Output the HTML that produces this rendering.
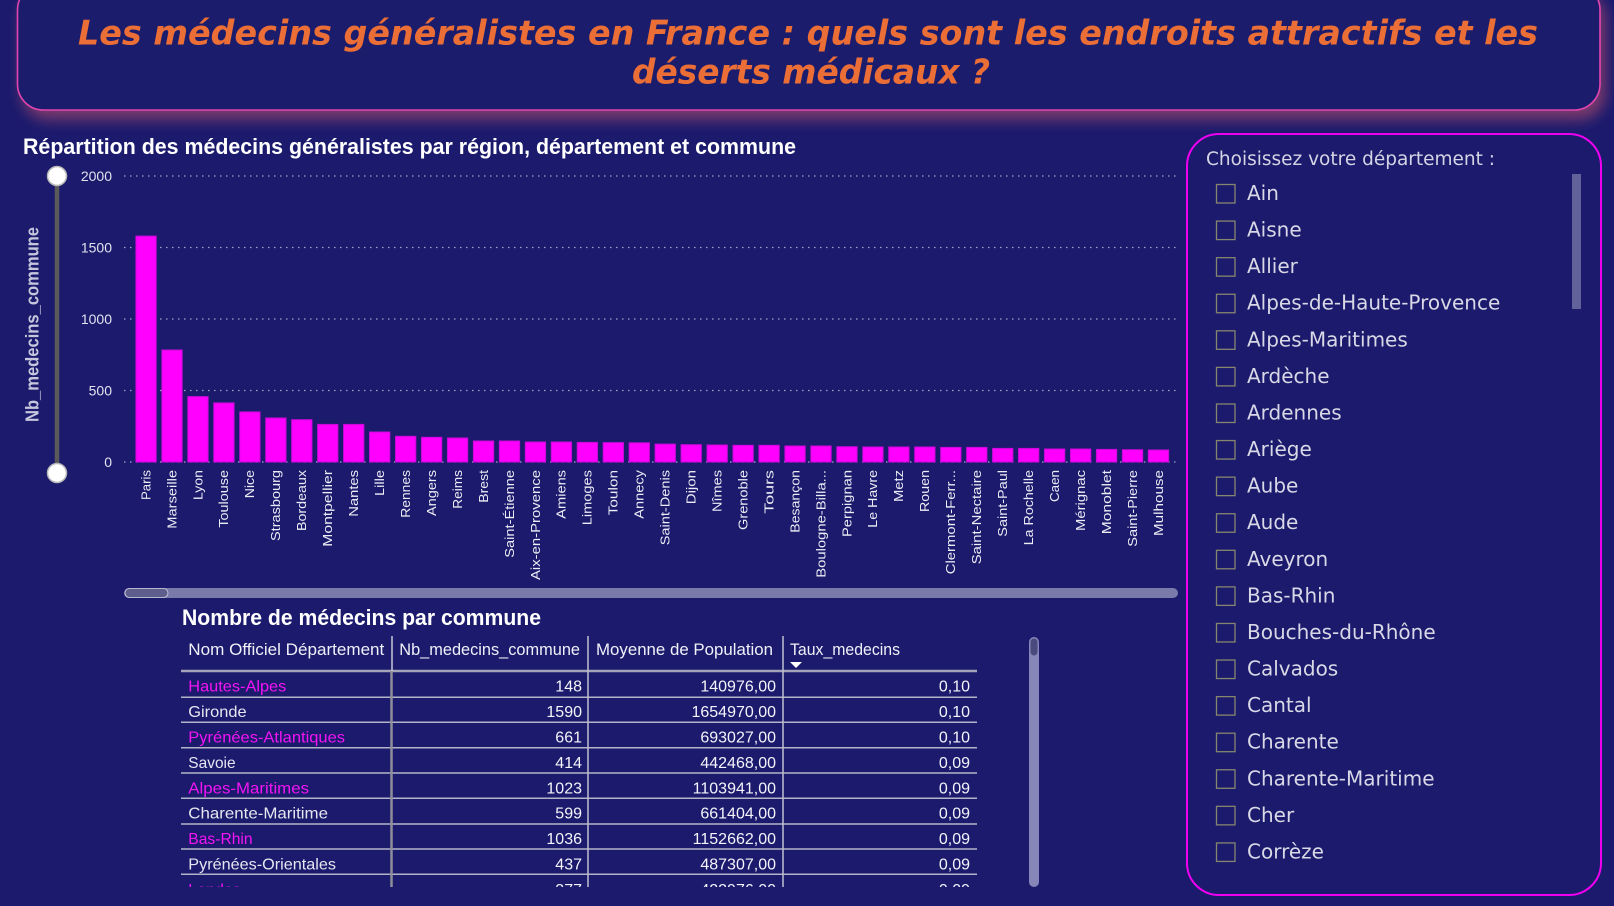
<!DOCTYPE html>
<html><head><meta charset="utf-8"><style>
html,body{margin:0;padding:0;background:#1b1a6d;}
svg{display:block;}
</style></head><body>
<svg width="1614" height="906" viewBox="0 0 1614 906" xmlns="http://www.w3.org/2000/svg">
<defs>
<filter id="sh" x="-5%" y="-30%" width="115%" height="180%">
<feDropShadow dx="5" dy="9" stdDeviation="7" flood-color="#8c3f6c" flood-opacity="0.85"/>
</filter>
<clipPath id="tclip"><rect x="170" y="630" width="820" height="257"/></clipPath>
</defs>
<rect width="1614" height="906" fill="#1b1a6d"/>

<!-- Header -->
<rect x="17.5" y="-16" width="1582.5" height="126" rx="26" fill="#1b1a6d" stroke="#e344ae" stroke-width="1.6" filter="url(#sh)"/>
<g font-family="'DejaVu Sans','Liberation Sans',sans-serif" font-weight="bold" font-style="italic" font-size="34" fill="#ea6e35">
<text x="78" y="44.5" textLength="1460" lengthAdjust="spacingAndGlyphs">Les médecins généralistes en France : quels sont les endroits attractifs et les</text>
<text x="632" y="83.5" textLength="358" lengthAdjust="spacingAndGlyphs">déserts médicaux ?</text>
</g>

<!-- Chart title -->
<text x="23" y="154" font-family="'Liberation Sans',sans-serif" font-weight="bold" font-size="22" fill="#ffffff" textLength="773" lengthAdjust="spacingAndGlyphs">Répartition des médecins généralistes par région, département et commune</text>

<!-- Y axis title -->
<text transform="translate(38.5,422) rotate(-90)" font-family="'Liberation Sans',sans-serif" font-weight="bold" font-size="18" fill="#c6c6dc" textLength="195" lengthAdjust="spacingAndGlyphs">Nb_medecins_commune</text>

<!-- Slider -->
<line x1="57" y1="176" x2="57" y2="473" stroke="#5a5a5a" stroke-width="4.5"/>
<circle cx="57" cy="176" r="9.5" fill="#ffffff" stroke="#b8b8b8" stroke-width="1.5"/>
<circle cx="57" cy="473" r="9.5" fill="#ffffff" stroke="#b8b8b8" stroke-width="1.5"/>

<!-- Gridlines -->
<g stroke="#a2a2c8" stroke-width="1.3" stroke-dasharray="1.5 4.5">
<line x1="124" y1="176" x2="1176" y2="176"/>
<line x1="124" y1="247.5" x2="1176" y2="247.5"/>
<line x1="124" y1="319" x2="1176" y2="319"/>
<line x1="124" y1="390.5" x2="1176" y2="390.5"/>
<line x1="124" y1="462" x2="1176" y2="462"/>
</g>
<g font-family="'Liberation Sans',sans-serif" font-size="14" fill="#e2e2ee" text-anchor="end">
<text x="112" y="181">2000</text>
<text x="112" y="252.5">1500</text>
<text x="112" y="324">1000</text>
<text x="112" y="395.5">500</text>
<text x="112" y="467">0</text>
</g>

<!-- Bars -->
<g fill="#ff00ff" stroke="#c80ad6" stroke-width="1">
<rect x="135.9" y="236.1" width="20.3" height="225.9"/>
<rect x="161.86" y="350" width="20.3" height="112"/>
<rect x="187.82" y="396.6" width="20.3" height="65.4"/>
<rect x="213.78" y="402.9" width="20.3" height="59.1"/>
<rect x="239.74" y="411.9" width="20.3" height="50.1"/>
<rect x="265.7" y="418" width="20.3" height="44"/>
<rect x="291.66" y="419.7" width="20.3" height="42.3"/>
<rect x="317.62" y="424.4" width="20.3" height="37.6"/>
<rect x="343.58" y="424.4" width="20.3" height="37.6"/>
<rect x="369.54" y="432" width="20.3" height="30"/>
<rect x="395.5" y="436.3" width="20.3" height="25.7"/>
<rect x="421.46" y="437.3" width="20.3" height="24.7"/>
<rect x="447.42" y="438" width="20.3" height="24"/>
<rect x="473.38" y="441" width="20.3" height="21"/>
<rect x="499.34" y="441" width="20.3" height="21"/>
<rect x="525.3" y="442" width="20.3" height="20"/>
<rect x="551.26" y="442" width="20.3" height="20"/>
<rect x="577.22" y="442.4" width="20.3" height="19.6"/>
<rect x="603.18" y="442.6" width="20.3" height="19.4"/>
<rect x="629.14" y="442.8" width="20.3" height="19.2"/>
<rect x="655.1" y="444.1" width="20.3" height="17.9"/>
<rect x="681.06" y="444.7" width="20.3" height="17.3"/>
<rect x="707.02" y="445" width="20.3" height="17"/>
<rect x="732.98" y="445.3" width="20.3" height="16.7"/>
<rect x="758.94" y="445.3" width="20.3" height="16.7"/>
<rect x="784.9" y="446" width="20.3" height="16"/>
<rect x="810.86" y="446" width="20.3" height="16"/>
<rect x="836.82" y="446.7" width="20.3" height="15.3"/>
<rect x="862.78" y="447" width="20.3" height="15"/>
<rect x="888.74" y="447" width="20.3" height="15"/>
<rect x="914.7" y="447" width="20.3" height="15"/>
<rect x="940.66" y="447.4" width="20.3" height="14.6"/>
<rect x="966.62" y="447.4" width="20.3" height="14.6"/>
<rect x="992.58" y="448.4" width="20.3" height="13.6"/>
<rect x="1018.54" y="448.4" width="20.3" height="13.6"/>
<rect x="1044.5" y="449" width="20.3" height="13"/>
<rect x="1070.46" y="449" width="20.3" height="13"/>
<rect x="1096.42" y="449.4" width="20.3" height="12.6"/>
<rect x="1122.38" y="449.7" width="20.3" height="12.3"/>
<rect x="1148.34" y="450" width="20.3" height="12"/>
</g>

<!-- X labels -->
<g font-family="'Liberation Sans',sans-serif" font-size="13" fill="#ececf4" lengthAdjust="spacingAndGlyphs">
<text transform="translate(150.35,500) rotate(-90)" textLength="30" lengthAdjust="spacingAndGlyphs">Paris</text>
<text transform="translate(176.31,528.7) rotate(-90)" textLength="58.7" lengthAdjust="spacingAndGlyphs">Marseille</text>
<text transform="translate(202.27,500) rotate(-90)" textLength="30" lengthAdjust="spacingAndGlyphs">Lyon</text>
<text transform="translate(228.23,527.7) rotate(-90)" textLength="57.7" lengthAdjust="spacingAndGlyphs">Toulouse</text>
<text transform="translate(254.19,498.3) rotate(-90)" textLength="28.3" lengthAdjust="spacingAndGlyphs">Nice</text>
<text transform="translate(280.15,541) rotate(-90)" textLength="71" lengthAdjust="spacingAndGlyphs">Strasbourg</text>
<text transform="translate(306.11,531) rotate(-90)" textLength="61" lengthAdjust="spacingAndGlyphs">Bordeaux</text>
<text transform="translate(332.07,546.7) rotate(-90)" textLength="76.7" lengthAdjust="spacingAndGlyphs">Montpellier</text>
<text transform="translate(358.03,516.7) rotate(-90)" textLength="46.7" lengthAdjust="spacingAndGlyphs">Nantes</text>
<text transform="translate(383.99,496) rotate(-90)" textLength="26" lengthAdjust="spacingAndGlyphs">Lille</text>
<text transform="translate(409.95,517.7) rotate(-90)" textLength="47.7" lengthAdjust="spacingAndGlyphs">Rennes</text>
<text transform="translate(435.91,516) rotate(-90)" textLength="46" lengthAdjust="spacingAndGlyphs">Angers</text>
<text transform="translate(461.87,508.7) rotate(-90)" textLength="38.7" lengthAdjust="spacingAndGlyphs">Reims</text>
<text transform="translate(487.83,502.7) rotate(-90)" textLength="32.7" lengthAdjust="spacingAndGlyphs">Brest</text>
<text transform="translate(513.79,557.7) rotate(-90)" textLength="87.7" lengthAdjust="spacingAndGlyphs">Saint-Étienne</text>
<text transform="translate(539.75,580) rotate(-90)" textLength="110" lengthAdjust="spacingAndGlyphs">Aix-en-Provence</text>
<text transform="translate(565.71,518.7) rotate(-90)" textLength="48.7" lengthAdjust="spacingAndGlyphs">Amiens</text>
<text transform="translate(591.67,525.3) rotate(-90)" textLength="55.3" lengthAdjust="spacingAndGlyphs">Limoges</text>
<text transform="translate(617.63,515.3) rotate(-90)" textLength="45.3" lengthAdjust="spacingAndGlyphs">Toulon</text>
<text transform="translate(643.59,518.7) rotate(-90)" textLength="48.7" lengthAdjust="spacingAndGlyphs">Annecy</text>
<text transform="translate(669.55,545.3) rotate(-90)" textLength="75.3" lengthAdjust="spacingAndGlyphs">Saint-Denis</text>
<text transform="translate(695.51,504.3) rotate(-90)" textLength="34.3" lengthAdjust="spacingAndGlyphs">Dijon</text>
<text transform="translate(721.47,512) rotate(-90)" textLength="42" lengthAdjust="spacingAndGlyphs">Nîmes</text>
<text transform="translate(747.43,530) rotate(-90)" textLength="60" lengthAdjust="spacingAndGlyphs">Grenoble</text>
<text transform="translate(773.39,513.7) rotate(-90)" textLength="43.7" lengthAdjust="spacingAndGlyphs">Tours</text>
<text transform="translate(799.35,532.7) rotate(-90)" textLength="62.7" lengthAdjust="spacingAndGlyphs">Besançon</text>
<text transform="translate(825.31,577.7) rotate(-90)" textLength="107.7" lengthAdjust="spacingAndGlyphs">Boulogne-Billa...</text>
<text transform="translate(851.27,537) rotate(-90)" textLength="67" lengthAdjust="spacingAndGlyphs">Perpignan</text>
<text transform="translate(877.23,527.7) rotate(-90)" textLength="57.7" lengthAdjust="spacingAndGlyphs">Le Havre</text>
<text transform="translate(903.19,502) rotate(-90)" textLength="32" lengthAdjust="spacingAndGlyphs">Metz</text>
<text transform="translate(929.15,512) rotate(-90)" textLength="42" lengthAdjust="spacingAndGlyphs">Rouen</text>
<text transform="translate(955.11,574.3) rotate(-90)" textLength="104.3" lengthAdjust="spacingAndGlyphs">Clermont-Ferr...</text>
<text transform="translate(981.07,564.3) rotate(-90)" textLength="94.3" lengthAdjust="spacingAndGlyphs">Saint-Nectaire</text>
<text transform="translate(1007.03,536.7) rotate(-90)" textLength="66.7" lengthAdjust="spacingAndGlyphs">Saint-Paul</text>
<text transform="translate(1032.99,545.3) rotate(-90)" textLength="75.3" lengthAdjust="spacingAndGlyphs">La Rochelle</text>
<text transform="translate(1058.95,502) rotate(-90)" textLength="32" lengthAdjust="spacingAndGlyphs">Caen</text>
<text transform="translate(1084.91,531) rotate(-90)" textLength="61" lengthAdjust="spacingAndGlyphs">Mérignac</text>
<text transform="translate(1110.87,534.3) rotate(-90)" textLength="64.3" lengthAdjust="spacingAndGlyphs">Monoblet</text>
<text transform="translate(1136.83,546.7) rotate(-90)" textLength="76.7" lengthAdjust="spacingAndGlyphs">Saint-Pierre</text>
<text transform="translate(1162.79,536) rotate(-90)" textLength="66" lengthAdjust="spacingAndGlyphs">Mulhouse</text>
</g>

<!-- Horizontal scrollbar -->
<rect x="124" y="588" width="1054" height="10" rx="5" fill="#7a7aaa"/>
<rect x="125" y="588.5" width="43" height="9" rx="4.5" fill="#5e5e8c" stroke="#d0d0e0" stroke-width="0.8"/>

<!-- Table -->
<text x="182" y="625" font-family="'Liberation Sans',sans-serif" font-weight="bold" font-size="22" fill="#ffffff" textLength="359" lengthAdjust="spacingAndGlyphs">Nombre de médecins par commune</text>
<g font-family="'Liberation Sans',sans-serif" font-size="17" fill="#f0f0f8">
<text x="188.3" y="655" textLength="196" lengthAdjust="spacingAndGlyphs">Nom Officiel Département</text>
<text x="399.3" y="655" textLength="180.7" lengthAdjust="spacingAndGlyphs">Nb_medecins_commune</text>
<text x="596" y="655" textLength="177" lengthAdjust="spacingAndGlyphs">Moyenne de Population</text>
<text x="790" y="655" textLength="110" lengthAdjust="spacingAndGlyphs">Taux_medecins</text>
</g>
<polygon points="790,662 802,662 796,668" fill="#ffffff"/>

<g clip-path="url(#tclip)">
<g stroke="#b4b4c8" stroke-width="1.5">
<line x1="181" y1="697.3" x2="977" y2="697.3"/>
<line x1="181" y1="722.3" x2="977" y2="722.3"/>
<line x1="181" y1="747.7" x2="977" y2="747.7"/>
<line x1="181" y1="773" x2="977" y2="773"/>
<line x1="181" y1="798.3" x2="977" y2="798.3"/>
<line x1="181" y1="824" x2="977" y2="824"/>
<line x1="181" y1="849" x2="977" y2="849"/>
<line x1="181" y1="874.3" x2="977" y2="874.3"/>
</g>
<line x1="181" y1="671" x2="977" y2="671" stroke="#a4a4b8" stroke-width="2.5"/>
<line x1="392" y1="636" x2="392" y2="671" stroke="#c8c8d8" stroke-width="1.5"/>
<line x1="391.5" y1="671" x2="391.5" y2="890" stroke="#8e8e9a" stroke-width="2.5"/>
<line x1="588" y1="636" x2="588" y2="890" stroke="#c0c0d0" stroke-width="1.5"/>
<line x1="783" y1="636" x2="783" y2="890" stroke="#c0c0d0" stroke-width="1.5"/>

<g font-family="'Liberation Sans',sans-serif" font-size="16">
<g>
<text x="188.3" y="691.7" fill="#f414f4" textLength="98" lengthAdjust="spacingAndGlyphs">Hautes-Alpes</text>
<text x="188.3" y="717.1" fill="#e6e6f0" textLength="58.3" lengthAdjust="spacingAndGlyphs">Gironde</text>
<text x="188.3" y="742.5" fill="#f414f4" textLength="156.7" lengthAdjust="spacingAndGlyphs">Pyrénées-Atlantiques</text>
<text x="188.3" y="767.9" fill="#e6e6f0" textLength="47.3" lengthAdjust="spacingAndGlyphs">Savoie</text>
<text x="188.3" y="793.3" fill="#f414f4" textLength="120.7" lengthAdjust="spacingAndGlyphs">Alpes-Maritimes</text>
<text x="188.3" y="818.7" fill="#e6e6f0" textLength="139.7" lengthAdjust="spacingAndGlyphs">Charente-Maritime</text>
<text x="188.3" y="844.1" fill="#f414f4" textLength="64.3" lengthAdjust="spacingAndGlyphs">Bas-Rhin</text>
<text x="188.3" y="869.5" fill="#e6e6f0" textLength="147.7" lengthAdjust="spacingAndGlyphs">Pyrénées-Orientales</text>
<text x="188.3" y="894.9" fill="#f414f4">Landes</text>
</g>
<g fill="#f4f4fa" text-anchor="end">
<text x="582" y="691.7">148</text>
<text x="582" y="717.1">1590</text>
<text x="582" y="742.5">661</text>
<text x="582" y="767.9">414</text>
<text x="582" y="793.3">1023</text>
<text x="582" y="818.7">599</text>
<text x="582" y="844.1">1036</text>
<text x="582" y="869.5">437</text>
<text x="582" y="894.9">377</text>
<text x="776" y="691.7">140976,00</text>
<text x="776" y="717.1">1654970,00</text>
<text x="776" y="742.5">693027,00</text>
<text x="776" y="767.9">442468,00</text>
<text x="776" y="793.3">1103941,00</text>
<text x="776" y="818.7">661404,00</text>
<text x="776" y="844.1">1152662,00</text>
<text x="776" y="869.5">487307,00</text>
<text x="776" y="894.9">422976,00</text>
<text x="970" y="691.7">0,10</text>
<text x="970" y="717.1">0,10</text>
<text x="970" y="742.5">0,10</text>
<text x="970" y="767.9">0,09</text>
<text x="970" y="793.3">0,09</text>
<text x="970" y="818.7">0,09</text>
<text x="970" y="844.1">0,09</text>
<text x="970" y="869.5">0,09</text>
<text x="970" y="894.9">0,09</text>
</g>
</g>
</g>

<!-- Table scrollbar -->
<rect x="1029" y="637" width="10" height="250" rx="5" fill="#8686b8"/>
<rect x="1030.5" y="638.5" width="7" height="17" rx="3.5" fill="#4a4a7e"/>

<!-- Slicer -->
<rect x="1187" y="134" width="414" height="761" rx="32" fill="none" stroke="#f000f0" stroke-width="2"/>
<text x="1206" y="165" font-family="'DejaVu Sans',sans-serif" font-size="18.5" fill="#d4d4e4" textLength="289" lengthAdjust="spacingAndGlyphs">Choisissez votre département :</text>
<rect x="1572" y="174" width="9" height="135" fill="#62629a"/>
<g fill="none" stroke="#86866e" stroke-width="1.3">
<rect x="1216.5" y="184.5" width="18.5" height="18.5"/>
<rect x="1216.5" y="221.08" width="18.5" height="18.5"/>
<rect x="1216.5" y="257.66" width="18.5" height="18.5"/>
<rect x="1216.5" y="294.24" width="18.5" height="18.5"/>
<rect x="1216.5" y="330.82" width="18.5" height="18.5"/>
<rect x="1216.5" y="367.4" width="18.5" height="18.5"/>
<rect x="1216.5" y="403.98" width="18.5" height="18.5"/>
<rect x="1216.5" y="440.56" width="18.5" height="18.5"/>
<rect x="1216.5" y="477.14" width="18.5" height="18.5"/>
<rect x="1216.5" y="513.72" width="18.5" height="18.5"/>
<rect x="1216.5" y="550.3" width="18.5" height="18.5"/>
<rect x="1216.5" y="586.88" width="18.5" height="18.5"/>
<rect x="1216.5" y="623.46" width="18.5" height="18.5"/>
<rect x="1216.5" y="660.04" width="18.5" height="18.5"/>
<rect x="1216.5" y="696.62" width="18.5" height="18.5"/>
<rect x="1216.5" y="733.2" width="18.5" height="18.5"/>
<rect x="1216.5" y="769.78" width="18.5" height="18.5"/>
<rect x="1216.5" y="806.36" width="18.5" height="18.5"/>
<rect x="1216.5" y="842.94" width="18.5" height="18.5"/>
</g>
<g font-family="'DejaVu Sans',sans-serif" font-size="20" fill="#d8d8e6">
<text x="1247" y="200">Ain</text>
<text x="1247" y="236.58">Aisne</text>
<text x="1247" y="273.16">Allier</text>
<text x="1247" y="309.74">Alpes-de-Haute-Provence</text>
<text x="1247" y="346.32">Alpes-Maritimes</text>
<text x="1247" y="382.9">Ardèche</text>
<text x="1247" y="419.48">Ardennes</text>
<text x="1247" y="456.06">Ariège</text>
<text x="1247" y="492.64">Aube</text>
<text x="1247" y="529.22">Aude</text>
<text x="1247" y="565.8">Aveyron</text>
<text x="1247" y="602.38">Bas-Rhin</text>
<text x="1247" y="638.96">Bouches-du-Rhône</text>
<text x="1247" y="675.54">Calvados</text>
<text x="1247" y="712.12">Cantal</text>
<text x="1247" y="748.7">Charente</text>
<text x="1247" y="785.28">Charente-Maritime</text>
<text x="1247" y="821.86">Cher</text>
<text x="1247" y="858.44">Corrèze</text>
</g>
</svg>
</body></html>
